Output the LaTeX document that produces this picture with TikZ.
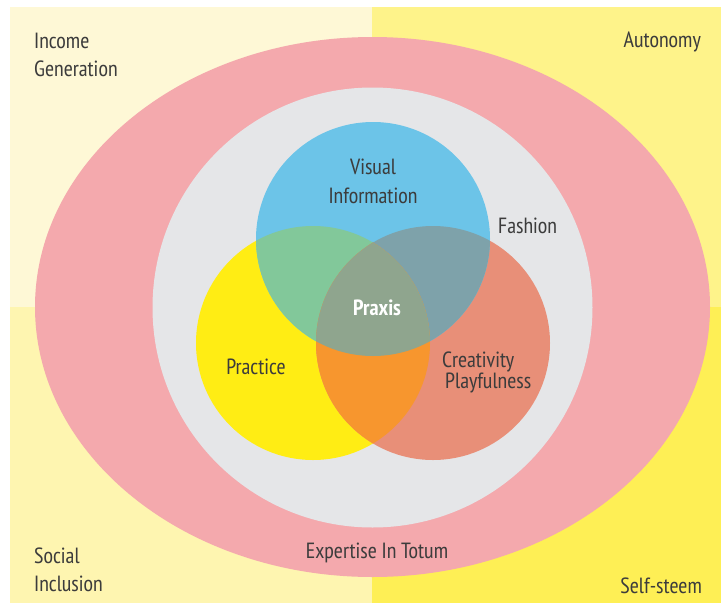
\documentclass[tikz,border=0pt]{standalone}
\usepackage{fontspec}
\setmainfont{PT Sans Narrow}
\usetikzlibrary{positioning}

\definecolor{quadTL}{HTML}{FEF8D6}
\definecolor{quadTR}{HTML}{FEF38A}
\definecolor{quadBL}{HTML}{FEF5B0}
\definecolor{quadBR}{HTML}{FEEF55}
\definecolor{ringpink}{HTML}{F4A9AD}
\definecolor{ringgray}{HTML}{E5E6E8}
\definecolor{visblue}{HTML}{6CC4E8}
\definecolor{pracyellow}{HTML}{FFED14}
\definecolor{creasalmon}{HTML}{E88F78}
\definecolor{mixgreen}{HTML}{82C89A}
\definecolor{mixslate}{HTML}{7EA2AA}
\definecolor{mixorange}{HTML}{F7962E}
\definecolor{mixcore}{HTML}{8FA58E}
\definecolor{labelgray}{HTML}{3C3C3C}

\begin{document}
\begin{tikzpicture}[x=1pt, y=-1pt]
			\tikzstyle{label} = [text=labelgray, inner sep=0pt, font=\fontsize{22}{28.5}\selectfont]
			\tikzstyle{venn} = [radius=117]

			\useasboundingbox (0,0) rectangle (721,603);
			\fill[white] (0,0) rectangle (721,603);

			% four background quarters
			\fill[quadTL] (10,7) rectangle (372,307);
			\fill[quadTR] (372,7) rectangle (721,307);
			\fill[quadBL] (10,307) rectangle (372,603);
			\fill[quadBR] (372,307) rectangle (721,603);

			% outer rings
			\fill[ringpink] (372.5,307) ellipse [x radius=337.5, y radius=270];
			\fill[ringgray] (372.5,307.5) circle [radius=220];

			% the three circles and their overlaps
			\coordinate (vis) at (373,239);
			\coordinate (pra) at (313,343);
			\coordinate (cre) at (433,343);
			\fill[pracyellow] (pra) circle [venn];
			\fill[creasalmon] (cre) circle [venn];
			\fill[visblue] (vis) circle [venn];
			\begin{scope}
				\clip (vis) circle [venn];
				\fill[mixgreen] (pra) circle [venn];
				\fill[mixslate] (cre) circle [venn];
			\end{scope}
			\begin{scope}
				\clip (pra) circle [venn];
				\fill[mixorange] (cre) circle [venn];
				\clip (cre) circle [venn];
				\fill[mixcore] (vis) circle [venn];
			\end{scope}

			% base of a two-line node sits on its last line
			\node[label, anchor=base west, align=left] (income) at (34,76.5) {Income\\Generation};
			\node[label, anchor=base east] (autonomy) at (701,47) {Autonomy};
			\node[label, anchor=base west, align=left] (social) at (34,591.5) {Social\\Inclusion};
			\node[label, anchor=base east] (selfsteem) at (702,593) {Self-steem};
			\node[label, anchor=base] (expertise) at (377,558) {Expertise In Totum};
			\node[label, anchor=base west] (fashion) at (498,233) {Fashion};
			\node[label, anchor=base, align=center] (visual) at (373,203) {Visual\\Information};
			\node[label, anchor=base] (practice) at (256,374) {Practice};
			\node[label, anchor=base west, align=left, font=\fontsize{22}{21}\selectfont] (creativity) at (442,388) {Creativity\\\hspace{3pt}Playfulness};
			\node[label, anchor=base, text=white, font=\fontsize{22}{28.5}\selectfont\bfseries] (praxis) at (377,315) {Praxis};
\end{tikzpicture}
\end{document}
